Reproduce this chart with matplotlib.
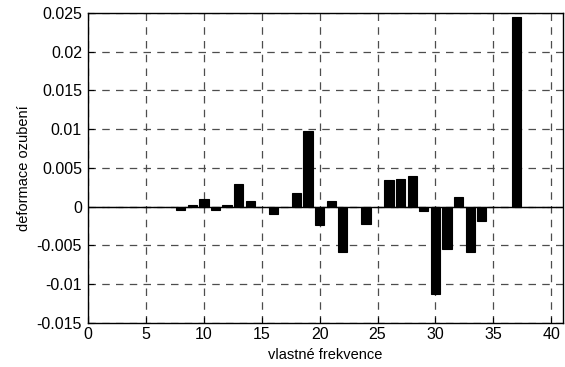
import numpy as np
import matplotlib
matplotlib.use("Agg")
import matplotlib.pyplot as plt

plt.rcParams['font.family'] = ['Liberation Sans', 'DejaVu Sans']

# mode numbers and deformation values
modes = np.arange(1, 41)
deformace = [
    0, 0, 0, 0, 0, 0, 0, -0.0004, 0.0002, 0.001,
    -0.0004, 0.0002, 0.0029, 0.0007, 0, -0.001, 0, 0.0018, 0.0097, -0.0024,
    0.0007, -0.0059, 0, -0.0022, 0, 0.0035, 0.0036, 0.0039, -0.0005, -0.0113,
    -0.0055, 0.0013, -0.0059, -0.0018, 0, 0, 0.0244, 0, 0, 0,
]
xticks = [0, 5, 10, 15, 20, 25, 30, 35, 40]
yticks = [-0.015, -0.01, -0.005, 0, 0.005, 0.01, 0.015, 0.02, 0.025]
ytick_labels = ['-0.015', '-0.01', '-0.005', '0', '0.005', '0.01', '0.015', '0.02', '0.025']

fig = plt.figure(figsize=(5.65, 3.67), dpi=100)
ax = fig.add_axes([0.156, 0.12, 0.84, 0.845])

ax.axhline(0, color='black', linewidth=1.0, zorder=2)
ax.bar(modes, deformace, width=0.8, color='black', edgecolor='black',
       linewidth=0.8, zorder=3)

ax.set_xlim(0, 41)
ax.set_ylim(-0.015, 0.025)
ax.set_xticks(xticks)
ax.set_yticks(yticks)
ax.set_yticklabels(ytick_labels)
ax.tick_params(labelsize=11.5, direction='in', length=4, width=0.8, pad=4.5)
ax.tick_params(axis='x', pad=3)
ax.grid(True, color='0.3', linestyle=(0, (6, 5)), linewidth=0.9, zorder=1)
ax.set_axisbelow(True)
for s in ax.spines.values():
    s.set_linewidth(1.0)

ax.set_xlabel('vlastné frekvence', fontsize=10.5, labelpad=4)
ax.set_ylabel('deformace ozubení', fontsize=10.5, labelpad=4)

fig.savefig('out.png', dpi=100)
